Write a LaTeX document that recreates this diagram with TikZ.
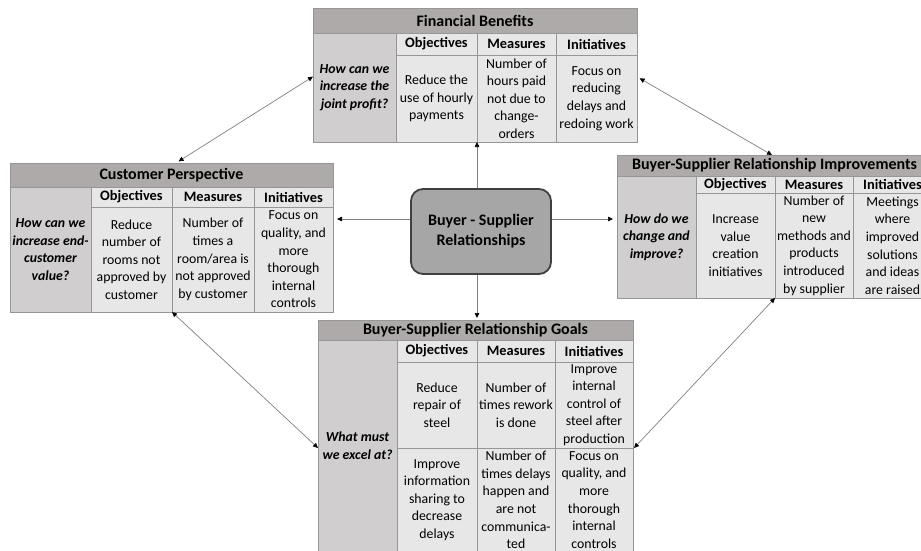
\documentclass[tikz,border=0pt]{standalone}
\usepackage{fontspec}
\setmainfont{Carlito}
\usepackage{tikz}
\usetikzlibrary{arrows.meta,positioning,calc}

\definecolor{titlegray}{RGB}{173,170,169}
\definecolor{questgray}{RGB}{208,206,206}
\definecolor{cellgray}{RGB}{232,231,231}
\definecolor{rulegray}{RGB}{150,150,150}
\definecolor{hubgray}{RGB}{166,166,166}

\begin{document}
\begin{tikzpicture}[x=1pt, y=-1pt,
    tbltitle/.style={draw=rulegray, fill=titlegray, outer sep=0pt, inner sep=0pt, anchor=north west, font=\fontsize{16}{19}\selectfont\bfseries},
    quest/.style={draw=rulegray, fill=questgray, outer sep=0pt, inner sep=0pt, align=center, anchor=north west, font=\fontsize{13.8}{17.6}\selectfont\bfseries\itshape},
    colhead/.style={draw=rulegray, fill=cellgray, outer sep=0pt, inner sep=0pt, anchor=north west, font=\fontsize{14.4}{17}\selectfont\bfseries},
    cell/.style={draw=rulegray, fill=cellgray, outer sep=0pt, inner xsep=1pt, inner ysep=0pt, align=center, anchor=north west, font=\fontsize{13.8}{17.6}\selectfont},
    hub/.style={draw=black!75, line width=1.8pt, fill=hubgray, rounded corners=12pt, minimum width=140pt, minimum height=85pt, align=center, font=\fontsize{16}{20}\selectfont\bfseries},
    link/.style={draw=black!50, line width=0.7pt, -{Triangle[length=5pt,width=4.5pt,black]}},
    dlink/.style={link, {Triangle[length=5pt,width=4.5pt,black]}-{Triangle[length=5pt,width=4.5pt,black]}}]

\useasboundingbox (0,0) rectangle (921,551);
\clip (0,0) rectangle (921,551);

% financial benefits
\node[tbltitle, minimum width=324pt, minimum height=25pt] (fin-t) at (313,8) {Financial Benefits};
\node[quest, minimum width=83pt, minimum height=109pt] (fin-q) at (313,33) {How can we\\increase the\\joint profit?};
\node[colhead, minimum width=81pt, minimum height=22pt] (fin-ho) at (396,33) {Objectives};
\node[colhead, minimum width=79pt, minimum height=22pt] (fin-hm) at (477,33) {Measures};
\node[colhead, minimum width=81pt, minimum height=22pt] (fin-hi) at (556,33) {Initiatives};
\node[cell, minimum width=81pt, minimum height=87pt] (fin-o1) at (396,55) {Reduce the\\use of hourly\\payments};
\node[cell, minimum width=79pt, minimum height=87pt] (fin-m1) at (477,55) {Number of\\hours paid\\not due to\\change-\\orders};
\node[cell, minimum width=81pt, minimum height=87pt] (fin-i1) at (556,55) {Focus on\\reducing\\delays and\\redoing work};

% customer perspective
\node[tbltitle, minimum width=323pt, minimum height=24pt] (cus-t) at (10,163) {Customer Perspective};
\node[quest, minimum width=81pt, minimum height=125pt] (cus-q) at (10,187) {How can we\\increase end-\\customer\\value?};
\node[colhead, minimum width=81pt, minimum height=20pt] (cus-ho) at (91,187) {Objectives};
\node[colhead, minimum width=82pt, minimum height=20pt] (cus-hm) at (172,187) {Measures};
\node[colhead, minimum width=79pt, minimum height=20pt] (cus-hi) at (254,187) {Initiatives};
\node[cell, minimum width=81pt, minimum height=105pt] (cus-o1) at (91,207) {Reduce\\number of\\rooms not\\approved by\\customer};
\node[cell, minimum width=82pt, minimum height=105pt] (cus-m1) at (172,207) {Number of\\times a\\room/area is\\not approved\\by customer};
\node[cell, minimum width=79pt, minimum height=105pt] (cus-i1) at (254,207) {Focus on\\quality, and\\more\\thorough\\internal\\controls};

% relationship improvements
\node[tbltitle, minimum width=315pt, minimum height=21pt] (imp-t) at (617,155) {Buyer-Supplier Relationship Improvements};
\node[quest, minimum width=79pt, minimum height=122pt] (imp-q) at (617,176) {How do we\\change and\\improve?};
\node[colhead, minimum width=79pt, minimum height=17pt] (imp-ho) at (696,176) {Objectives};
\node[colhead, minimum width=78pt, minimum height=17pt] (imp-hm) at (775,176) {Measures};
\node[colhead, minimum width=79pt, minimum height=17pt] (imp-hi) at (853,176) {Initiatives};
\node[cell, minimum width=79pt, minimum height=105pt] (imp-o1) at (696,193) {Increase\\value\\creation\\initiatives};
\node[cell, minimum width=78pt, minimum height=105pt] (imp-m1) at (775,193) {Number of\\new\\methods and\\products\\introduced\\by supplier};
\node[cell, minimum width=79pt, minimum height=105pt] (imp-i1) at (853,193) {Meetings\\where\\improved\\solutions\\and ideas\\are raised};

% relationship goals
\node[tbltitle, minimum width=315pt, minimum height=20pt] (gol-t) at (318,320) {Buyer-Supplier Relationship Goals};
\node[quest, minimum width=79pt, minimum height=212pt] (gol-q) at (318,340) {What must\\we excel at?};
\node[colhead, minimum width=80pt, minimum height=22pt] (gol-ho) at (397,340) {Objectives};
\node[colhead, minimum width=78pt, minimum height=22pt] (gol-hm) at (477,340) {Measures};
\node[colhead, minimum width=78pt, minimum height=22pt] (gol-hi) at (555,340) {Initiatives};
\node[cell, minimum width=80pt, minimum height=86pt] (gol-o1) at (397,362) {Reduce\\repair of\\steel};
\node[cell, minimum width=78pt, minimum height=86pt] (gol-m1) at (477,362) {Number of\\times rework\\is done};
\node[cell, minimum width=78pt, minimum height=86pt] (gol-i1) at (555,362) {Improve\\internal\\control of\\steel after\\production};
\node[cell, minimum width=80pt, minimum height=104pt] (gol-o2) at (397,448) {Improve\\information\\sharing to\\decrease\\delays};
\node[cell, minimum width=78pt, minimum height=104pt] (gol-m2) at (477,448) {Number of\\times delays\\happen and\\are not\\communica-\\ted};
\node[cell, minimum width=78pt, minimum height=104pt] (gol-i2) at (555,448) {Focus on\\quality, and\\more\\thorough\\internal\\controls};

% centre
\node[hub] (hub) at (481,231.5) {Buyer - Supplier\\Relationships};

% connectors
\coordinate (hubL) at ([yshift=12.5pt]hub.west);
\coordinate (hubR) at ([yshift=12.5pt]hub.east);
\draw[link] (hub.north -| fin-hm.west) -- (fin-m1.south west);
\draw[link] (hub.south -| gol-hm.west) -- ([yshift=2pt]gol-t.north -| gol-hm.west);
\draw[link, shorten >=4pt] (hubL) -- (hubL -| cus-i1.east);
\draw[link, shorten >=4pt] (hubR) -- (hubR -| imp-q.west);
\draw[dlink, shorten >=3pt] ($(fin-q.north west)!0.4!(fin-q.south west)$) -- ([xshift=4.5pt]cus-t.north);
\draw[dlink, shorten <=3pt] ($(fin-i1.north east)!0.25!(fin-i1.south east)$) -- ([xshift=-3pt]imp-t.north -| imp-hm.west);
\draw[dlink] (cus-o1.south east) -- (gol-q.west |- gol-o1.south);
\draw[dlink] (imp-m1.south west) -- ([xshift=1pt]gol-i1.south east);
\end{tikzpicture}
\end{document}
